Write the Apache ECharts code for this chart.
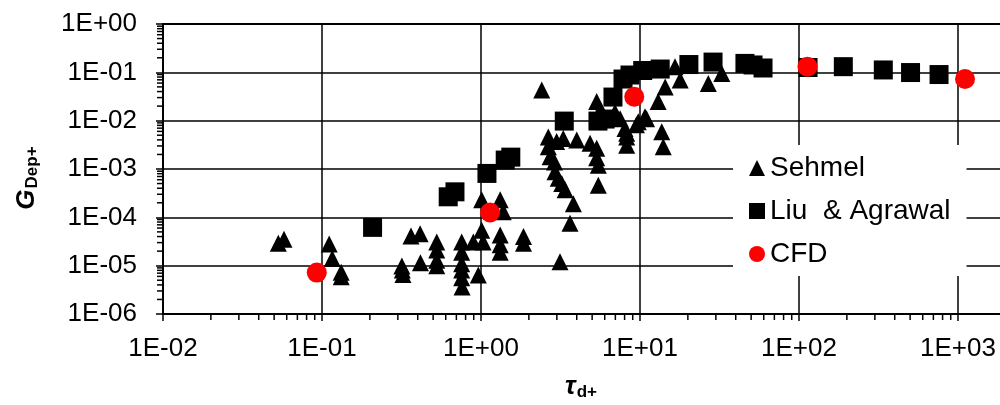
<!DOCTYPE html>
<html>
<head>
<meta charset="utf-8">
<title>G Dep+ vs tau d+</title>
<script src="https://cdn.jsdelivr.net/npm/echarts@6/dist/echarts.min.js"></script>
<style>
  html, body { margin: 0; padding: 0; background: #fff; overflow: hidden; }
  /* the original figure is cropped on the right, so the chart is wider than the window */
  #chart { width: 1160px; height: 405px; }
</style>
</head>
<body>
<div id="chart"></div>
<script>
// tau_d+ , G_Dep+ pairs
var sehmel = [
  [0.0531, 2.9e-5], [0.0577, 3.5e-5],
  [0.111, 2.8e-5], [0.116, 1.4e-5], [0.132, 7.3e-6], [0.132, 5.9e-6],
  [0.318, 9.8e-6], [0.320, 8.1e-6], [0.323, 6.6e-6],
  [0.363, 4.1e-5], [0.414, 4.6e-5], [0.416, 1.15e-5],
  [0.527, 3.1e-5], [0.527, 2.1e-5], [0.527, 1.3e-5], [0.527, 1.0e-5],
  [0.756, 3.1e-5], [0.756, 1.9e-5], [0.756, 1.1e-5], [0.756, 8.1e-6], [0.756, 5.6e-6], [0.76, 3.6e-6],
  [0.895, 3.1e-5], [0.962, 6.4e-6], [1.01, 2.3e-4], [1.01, 5.4e-5], [1.03, 3.1e-5],
  [1.32, 2.3e-4], [1.38, 1.3e-4], [1.32, 4.3e-5], [1.32, 2.7e-5], [1.32, 1.9e-5],
  [1.85, 4.0e-5], [1.85, 2.9e-5],
  [2.41, 4.3e-2],
  [2.65, 4.6e-3], [2.65, 2.9e-3], [2.72, 1.8e-3], [2.9, 1.4e-3], [2.92, 8.8e-4], [3.06, 6.4e-4],
  [3.22, 5.0e-4], [3.38, 3.7e-4], [3.81, 1.9e-4], [3.63, 7.5e-5], [3.14, 1.2e-5],
  [2.99, 3.7e-3], [3.29, 4.3e-3], [4.0, 4.0e-3], [4.85, 3.4e-3], [5.34, 2.7e-3], [5.34, 1.7e-3],
  [5.47, 1.2e-3], [5.47, 4.6e-4],
  [5.34, 2.5e-2], [6.96, 1.5e-2], [7.5, 1.1e-2], [8.05, 6.9e-3], [8.25, 5.5e-3], [8.25, 4.6e-3],
  [8.25, 3.1e-3], [9.5, 8.2e-3], [9.75, 9.5e-3], [10.75, 1.2e-2], [11.0, 1.1e-2],
  [13.0, 2.5e-2], [13.7, 5.9e-3], [14.0, 2.9e-3], [14.4, 5.0e-2], [16.6, 1.3e-1], [17.9, 6.9e-2],
  [26.9, 5.9e-2], [32.7, 9.5e-2]
];
var liuAgrawal = [
  [0.208, 6.2e-5], [0.622, 2.66e-4], [0.686, 3.37e-4], [1.09, 8.1e-4], [1.42, 1.53e-3], [1.54, 1.76e-3],
  [3.34, 9.8e-3], [5.44, 9.8e-3], [6.03, 1.08e-2], [6.76, 3.08e-2], [7.82, 7.27e-2], [8.65, 8.8e-2],
  [10.4, 0.109], [13.4, 0.117], [20.3, 0.145], [28.8, 0.163], [45.7, 0.153], [51.4, 0.142],
  [59.4, 0.123], [114, 0.126], [190, 0.131], [339, 0.112], [503, 0.099], [760, 0.090]
];
var cfd = [
  [0.0927, 7.2e-6], [1.14, 1.26e-4], [9.2, 0.0313], [113, 0.131], [1107, 0.0727]
];

// decades used for the log minor ticks (2..9 in each)
var xDecades = [0.01, 0.1, 1, 10, 100, 1000];
var yDecades = [1e-6, 1e-5, 1e-4, 1e-3, 1e-2, 1e-1];
var minorSteps = [2, 3, 4, 5, 6, 7, 8, 9];

var FONT = "'Liberation Sans', Arial, sans-serif";

function expLabel(v) {
  var e = Math.round(Math.log10(v));
  var s = String(Math.abs(e));
  if (s.length < 2) s = "0" + s;
  return "1E" + (e < 0 ? "-" : "+") + s;
}

var myChart = echarts.init(document.getElementById("chart"), null, { renderer: "canvas" });

var titleRich = {
  g: { fontFamily: FONT, fontSize: 26, fontWeight: "bold", fontStyle: "italic", fill: "#000" },
  s: { fontFamily: FONT, fontSize: 17, fontWeight: "bold", fill: "#000", padding: [11, 0, 0, 1] }
};

var option = {
  animation: false,
  backgroundColor: "#fff",
  grid: {
    left: 163,
    top: 24,
    right: 43,
    bottom: 91,
    show: true,
    borderColor: "#000",
    borderWidth: 2
  },
  xAxis: {
    type: "log",
    logBase: 10,
    min: 0.01,
    max: 10000,
    splitNumber: 6,
    axisLine: { lineStyle: { color: "#000", width: 2 } },
    axisTick: { length: 7, lineStyle: { color: "#000", width: 1.5 } },
    splitLine: { show: true, lineStyle: { color: "#000", width: 1.5 } },
    axisLabel: { color: "#000", fontFamily: FONT, fontSize: 26, margin: 22, formatter: expLabel }
  },
  yAxis: {
    type: "log",
    logBase: 10,
    min: 1e-6,
    max: 1,
    splitNumber: 6,
    axisLine: { lineStyle: { color: "#000", width: 2 } },
    axisTick: { length: 7, lineStyle: { color: "#000", width: 1.5 } },
    splitLine: { show: true, lineStyle: { color: "#000", width: 1.5 } },
    axisLabel: { color: "#000", fontFamily: FONT, fontSize: 26, margin: 26, formatter: expLabel }
  },
  legend: {
    orient: "vertical",
    left: 733,
    top: 145,
    backgroundColor: "#fff",
    padding: [9, 16, 8, 16],
    itemGap: 15,
    itemWidth: 16,
    itemHeight: 16,
    textStyle: { color: "#000", fontFamily: FONT, fontSize: 28 },
    data: [
      { name: "Sehmel", icon: "triangle" },
      { name: "Liu  & Agrawal", icon: "rect" },
      { name: "CFD", icon: "circle" }
    ]
  },
  graphic: [
    {
      type: "text",
      x: 27,
      y: 178,
      rotation: Math.PI / 2,
      style: {
        text: "{g|G}{s|Dep+}",
        align: "center",
        verticalAlign: "middle",
        fill: "#000",
        rich: titleRich
      }
    },
    {
      type: "text",
      x: 581,
      y: 387,
      style: {
        text: "{g|τ}{s|d+}",
        align: "center",
        verticalAlign: "middle",
        fill: "#000",
        rich: titleRich
      }
    }
  ],
  series: [
    {
      name: "Liu  & Agrawal",
      type: "scatter",
      symbol: "rect",
      symbolSize: 19,
      itemStyle: { color: "#000", opacity: 1 },
      data: liuAgrawal
    },
    {
      name: "Sehmel",
      type: "scatter",
      symbol: "triangle",
      symbolSize: 17,
      itemStyle: { color: "#000", opacity: 1 },
      data: sehmel
    },
    {
      name: "CFD",
      type: "scatter",
      symbol: "circle",
      symbolSize: 20,
      itemStyle: { color: "#ff0000", opacity: 1 },
      data: cfd
    },
    {
      // minor ticks under the x axis
      type: "custom",
      silent: true,
      clip: false,
      data: xDecades.map(function(d) { return [d, 1e-6]; }),
      renderItem: function(params, api) {
        var dec = api.value(0);
        var children = minorSteps.map(function(k) {
          var p = api.coord([k * dec, 1e-6]);
          return {
            type: "line",
            shape: { x1: p[0], y1: p[1], x2: p[0], y2: p[1] + 6 },
            style: { stroke: "#000", lineWidth: 1.5 }
          };
        });
        return { type: "group", children: children };
      }
    },
    {
      // minor ticks left of the y axis
      type: "custom",
      silent: true,
      clip: false,
      data: yDecades.map(function(d) { return [0.01, d]; }),
      renderItem: function(params, api) {
        var dec = api.value(1);
        var children = minorSteps.map(function(k) {
          var p = api.coord([0.01, k * dec]);
          return {
            type: "line",
            shape: { x1: p[0] - 6, y1: p[1], x2: p[0], y2: p[1] },
            style: { stroke: "#000", lineWidth: 1.5 }
          };
        });
        return { type: "group", children: children };
      }
    }
  ]
};

myChart.setOption(option);
</script>
</body>
</html>
